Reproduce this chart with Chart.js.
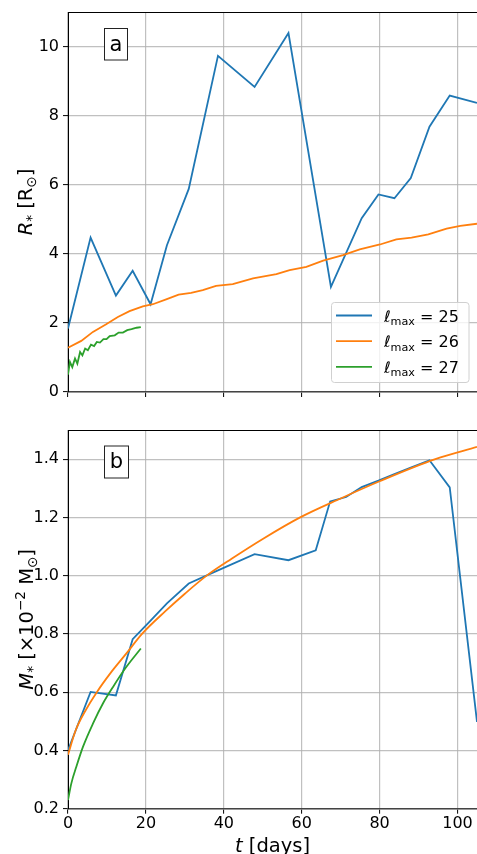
<!DOCTYPE html>
<html>
<head>
<meta charset="utf-8">
<script src="https://cdn.jsdelivr.net/npm/chart.js@4.4.1/dist/chart.umd.min.js"></script>
<style>
html, body { margin: 0; padding: 0; overflow: hidden; background: #fff; }
#wrap { position: relative; width: 477px; height: 854px; overflow: hidden; }
#panelA { position: absolute; left: 0; top: 0; }
#panelB { position: absolute; left: 0; top: 410px; }
</style>
</head>
<body>
<div id="wrap">
<canvas id="panelA" width="477" height="410"></canvas>
<canvas id="panelB" width="477" height="460"></canvas>
</div>
<script>
// panel a: stellar radius R* [Rsun] vs t [days]
const tBlueA = [0, 5.8, 12.3, 16.6, 21.2, 25.4, 31.0, 38.5, 47.9, 56.6, 67.5, 75.4, 79.7, 83.8, 88.0, 92.8, 98.0, 105]
const rBlue = [1.84, 4.47, 2.79, 3.51, 2.54, 4.25, 5.88, 9.73, 8.83, 10.39, 3.04, 5.03, 5.72, 5.61, 6.19, 7.68, 8.58, 8.37]
const tOrangeA = [0, 3.4, 6.4, 9.8, 12.8, 15.8, 19.2, 21.8, 25.2, 28.4, 31.6, 34.6, 38.0, 42.3, 47.5, 53.5, 56.9, 61.2, 65.5, 70.6, 74.9, 80.1, 84.3, 88.2, 92.5, 97.2, 100.7, 105]
const rOrange = [1.28, 1.48, 1.74, 1.96, 2.17, 2.34, 2.48, 2.54, 2.68, 2.82, 2.87, 2.95, 3.07, 3.12, 3.29, 3.41, 3.53, 3.62, 3.80, 3.96, 4.13, 4.27, 4.42, 4.47, 4.56, 4.73, 4.81, 4.87]
const tGreenA = [0, 0.5, 1.1, 1.8, 2.4, 3.1, 3.7, 4.4, 5.1, 5.9, 6.7, 7.4, 8.2, 9.1, 9.9, 10.7, 12.0, 13.0, 14.1, 15.2, 16.3, 17.6, 18.7]
const rGreen = [0.5, 0.87, 0.72, 0.97, 0.82, 1.16, 1.06, 1.26, 1.21, 1.37, 1.33, 1.45, 1.43, 1.53, 1.53, 1.62, 1.64, 1.72, 1.72, 1.79, 1.82, 1.86, 1.88]

// panel b: stellar mass M* [1e-2 Msun] vs t [days]
const tBlueB = [0, 5.8, 12.3, 16.6, 21.2, 25.4, 31.0, 38.5, 47.9, 56.6, 63.6, 67.3, 71.4, 75.4, 79.7, 83.8, 88.0, 92.8, 98.0, 105]
const mBlue = [0.401, 0.601, 0.589, 0.782, 0.846, 0.905, 0.973, 1.018, 1.074, 1.053, 1.087, 1.255, 1.270, 1.304, 1.326, 1.349, 1.371, 1.396, 1.303, 0.498]
const tOrangeB = [0, 2, 4.5, 7.4, 11, 15, 19, 25, 30, 35.6, 42, 50, 59.6, 70, 80, 94.3, 105]
const mOrange = [0.385, 0.47, 0.537, 0.6, 0.667, 0.733, 0.8, 0.878, 0.938, 1.0, 1.058, 1.126, 1.2, 1.265, 1.324, 1.4, 1.442]
const tGreenB = [0, 0.86, 2.14, 3.86, 6.43, 9.0, 11.6, 15.0, 18.7]
const mGreen = [0.23, 0.287, 0.344, 0.413, 0.493, 0.562, 0.619, 0.687, 0.75]

const labels = ['25', '26', '27']
const xTicks = [0, 20, 40, 60, 80, 100]
const rTicks = [0, 2, 4, 6, 8, 10]
const mTicks = [0.2, 0.4, 0.6, 0.8, 1.0, 1.2, 1.4]

const BLUE = '#1f77b4', ORANGE = '#ff7f0e', GREEN = '#2ca02c'
const FAM = '"DejaVu Sans", sans-serif'
const GRID = 'rgba(176,176,176,0.8)'

function pts(xs, ys) { return xs.map((x, i) => ({ x: x, y: ys[i] })) }

function line(data, color, order, smooth) {
	return {
		data: data, borderColor: color, backgroundColor: color, borderWidth: 1.8,
		pointRadius: 0, tension: 0, order: order, fill: false,
		cubicInterpolationMode: smooth ? 'monotone' : 'default'
	}
}

// draw text made of runs (italic, sub/superscripts)
function runs(ctx, parts, x, y, align) {
	let w = 0
	parts.forEach(p => { ctx.font = p.f; w += ctx.measureText(p.t).width })
	let cx = align === 'left' ? x : x - w / 2
	parts.forEach(p => {
		ctx.font = p.f
		ctx.fillText(p.t, cx, y + (p.dy || 0))
		cx += ctx.measureText(p.t).width
	})
}

const big = '19.5px ' + FAM, bigI = 'italic 19.5px ' + FAM, sub = '13.6px ' + FAM

const decorPlugin = {
	id: 'decor',
	afterDraw(chart, args, o) {
		const ctx = chart.ctx, a = chart.chartArea
		ctx.save()
		// top spine
		ctx.strokeStyle = '#000'
		ctx.lineWidth = 1
		ctx.beginPath()
		ctx.moveTo(a.left, a.top + 0.5)
		ctx.lineTo(a.right, a.top + 0.5)
		ctx.stroke()

		ctx.fillStyle = '#000'
		ctx.textBaseline = 'alphabetic'
		// y title
		ctx.save()
		ctx.translate(o.yTitleX, (a.top + a.bottom) / 2)
		ctx.rotate(-Math.PI / 2)
		runs(ctx, o.yTitle, 0, 0)
		ctx.restore()

		// x title
		if (o.xTitle) runs(ctx, o.xTitle, (a.left + a.right) / 2, o.xTitleY)

		// panel letter in a box
		const b = o.box
		ctx.fillStyle = '#fff'
		ctx.fillRect(b.x, b.y, b.w, b.h)
		ctx.strokeStyle = '#222'
		ctx.strokeRect(b.x + 0.5, b.y + 0.5, b.w, b.h)
		ctx.fillStyle = '#000'
		ctx.font = '21px ' + FAM
		ctx.textAlign = 'center'
		ctx.fillText(o.letter, b.x + b.w / 2 + 0.5, b.base)
		ctx.textAlign = 'left'

		// legend
		if (o.legend) {
			const L = o.legend
			ctx.fillStyle = 'rgba(255,255,255,0.8)'
			ctx.strokeStyle = '#d0d0d0'
			ctx.beginPath()
			ctx.roundRect(L.x + 0.5, L.y + 0.5, L.w, L.h, 3)
			ctx.fill()
			ctx.stroke()
			chart.data.datasets.forEach((ds, i) => {
				const y = L.y + 13.5 + i * 25.7
				ctx.strokeStyle = ds.borderColor
				ctx.lineWidth = 1.8
				ctx.beginPath()
				ctx.moveTo(L.x + 5, y)
				ctx.lineTo(L.x + 41, y)
				ctx.stroke()
				ctx.fillStyle = '#000'
				runs(ctx, [
					{ t: 'ℓ', f: 'italic 16px ' + FAM },
					{ t: 'max', f: '11.2px ' + FAM, dy: 3.5 },
					{ t: ' = ' + labels[i], f: '16px ' + FAM }
				], L.x + 53, y + 6, 'left')
			})
		}
		ctx.restore()
	}
}

function panel(id, datasets, yMin, yMax, yTicks, fmt, padTop, xHeight, showX, decor) {
	return new Chart(document.getElementById(id), {
		type: 'line',
		data: { datasets: datasets },
		options: {
			responsive: false,
			animation: false,
			devicePixelRatio: 1,
			layout: { padding: { top: padTop, right: 0, bottom: 0, left: 0 } },
			plugins: { legend: { display: false }, tooltip: { enabled: false }, decor: decor },
			scales: {
				x: {
					type: 'linear', min: 0, max: 105,
					afterBuildTicks: s => { s.ticks = xTicks.map(v => ({ value: v })) },
					afterFit: s => { s.height = xHeight; s.paddingLeft = 0; s.paddingRight = 0 },
					ticks: { display: showX, font: { family: FAM, size: 16 }, color: '#000', padding: 1, maxRotation: 0, autoSkip: false },
					grid: { color: GRID, lineWidth: 1.2, tickLength: 5, tickColor: '#000', tickWidth: 1 },
					border: { color: '#444', width: 1.5 }
				},
				y: {
					type: 'linear', min: yMin, max: yMax,
					afterBuildTicks: s => { s.ticks = yTicks.map(v => ({ value: v })) },
					afterFit: s => { s.width = 68; s.paddingTop = 0; s.paddingBottom = 0 },
					ticks: { font: { family: FAM, size: 16 }, color: '#000', padding: 4, callback: fmt },
					grid: { color: GRID, lineWidth: 1.2, tickLength: 5, tickColor: '#000', tickWidth: 1 },
					border: { color: '#000', width: 1 }
				}
			}
		},
		plugins: [decorPlugin]
	})
}

panel('panelA', [
	line(pts(tBlueA, rBlue), BLUE, 3, false),
	line(pts(tOrangeA, rOrange), ORANGE, 2, false),
	line(pts(tGreenA, rGreen), GREEN, 1, false)
], 0, 11, rTicks, v => String(v), 12, 18, false, {
	yTitleX: 31.7,
	yTitle: [
		{ t: 'R', f: bigI },
		{ t: '*', f: sub, dy: 4 },
		{ t: ' [R', f: big },
		{ t: '⊙', f: sub, dy: 4 },
		{ t: ']', f: big }
	],
	letter: 'a',
	box: { x: 104, y: 28, w: 23, h: 31.5, base: 50.7 },
	legend: { x: 331, y: 302, w: 137.5, h: 80 }
})

panel('panelB', [
	line(pts(tBlueB, mBlue), BLUE, 3, false),
	line(pts(tOrangeB, mOrange), ORANGE, 2, true),
	line(pts(tGreenB, mGreen), GREEN, 1, true)
], 0.2, 1.5, mTicks, v => v.toFixed(1), 20, 61.3, true, {
	yTitleX: 33,
	yTitle: [
		{ t: 'M', f: bigI },
		{ t: '*', f: sub, dy: 4 },
		{ t: ' [×10', f: big },
		{ t: '−2', f: sub, dy: -8 },
		{ t: ' M', f: big },
		{ t: '⊙', f: sub, dy: 4 },
		{ t: ']', f: big }
	],
	xTitle: [
		{ t: 't', f: bigI },
		{ t: ' [days]', f: big }
	],
	xTitleY: 442,
	letter: 'b',
	box: { x: 104, y: 35.5, w: 24, h: 32, base: 57.7 }
})
</script>
</body>
</html>
